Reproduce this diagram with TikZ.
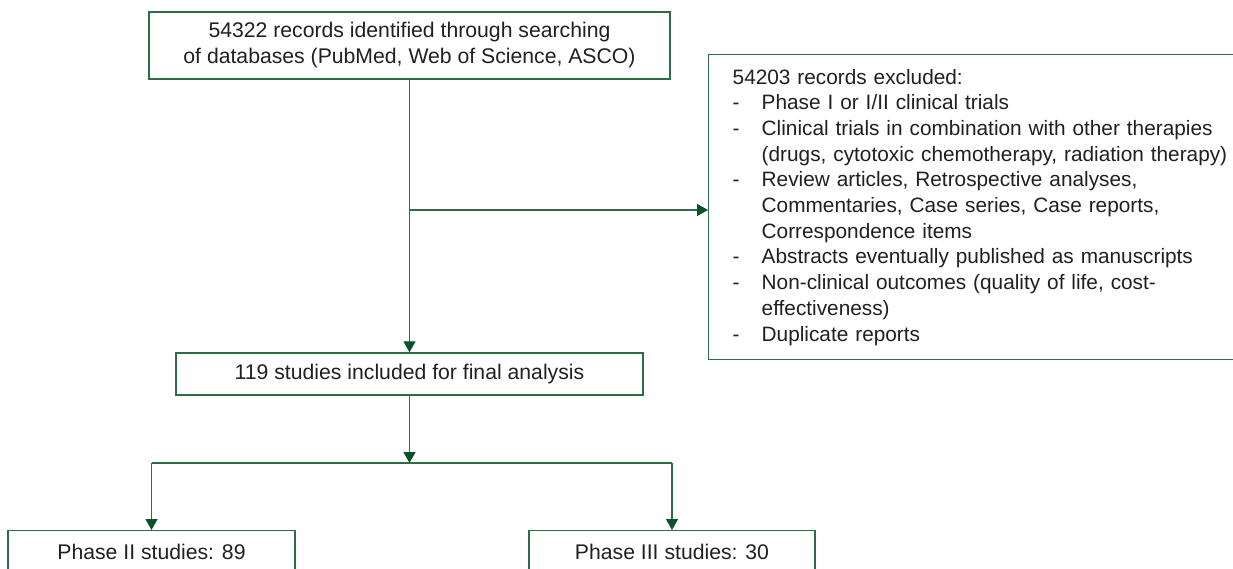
\documentclass[tikz,border=0pt]{standalone}
\usepackage{fontspec}
\setmainfont{Liberation Sans}
\usetikzlibrary{arrows.meta}
\definecolor{boxgreen}{RGB}{46,108,70}
\definecolor{arrowgreen}{RGB}{12,82,40}
\definecolor{txt}{RGB}{35,31,32}
\begin{document}
\begin{tikzpicture}[x=1pt,y=-1pt,
  box/.style={draw=boxgreen, line width=1.4pt, fill=white, text=txt,
    font=\fontsize{21.2}{26}\selectfont, inner sep=0pt},
  conn/.style={draw=boxgreen, line width=1.3pt},
  arr/.style={conn, -{Triangle[length=11pt,width=12pt,fill=arrowgreen,color=arrowgreen]}}]
\useasboundingbox (0,0) rectangle (1233,569);
\clip (0,0) rectangle (1233,569);

\node[box, minimum width=521pt, minimum height=67pt, align=center] (search) at (409.5,45.5)
  {54322 records identified through searching\\of databases (PubMed, Web of Science, ASCO)};

\node[box, anchor=north west, inner xsep=24pt, text width=536pt, minimum height=305pt,
  align=left, font=\fontsize{20.8}{25.7}\selectfont] (excl) at (708,54)
  {54203 records excluded:\\
   \makebox[29pt][l]{-}Phase I or I/II clinical trials\\
   \makebox[29pt][l]{-}Clinical trials in combination with other therapies\\
   \hspace*{29pt}(drugs, cytotoxic chemotherapy, radiation therapy)\\
   \makebox[29pt][l]{-}Review articles, Retrospective analyses,\\
   \hspace*{29pt}Commentaries, Case series, Case reports,\\
   \hspace*{29pt}Correspondence items\\
   \makebox[29pt][l]{-}Abstracts eventually published as manuscripts\\
   \makebox[29pt][l]{-}Non-clinical outcomes (quality of life, cost-\\
   \hspace*{29pt}effectiveness)\\
   \makebox[29pt][l]{-}Duplicate reports};

\node[box, minimum width=467pt, minimum height=42pt] (incl) at (409.5,374)
  {119 studies included for final analysis};

\node[box, anchor=north, minimum width=287pt, minimum height=42pt] (ph2) at (151.5,530)
  {Phase II studies: 89};
\node[box, anchor=north, minimum width=286pt, minimum height=42pt] (ph3) at (672,530)
  {Phase III studies: 30};

\coordinate (branch) at (409.5,210);
\coordinate (split) at (409.5,463);
\coordinate (sl) at (ph2.north |- split);
\coordinate (sr) at (ph3.north |- split);

\draw[arr] (search.south) -- (incl.north);
\draw[arr] (branch) -- (excl.west |- branch);
\draw[arr] (incl.south) -- (split);
\draw[conn] (sl) -- (sr);
\draw[arr] (sl) -- (ph2.north);
\draw[arr] (sr) -- (ph3.north);
\end{tikzpicture}
\end{document}
